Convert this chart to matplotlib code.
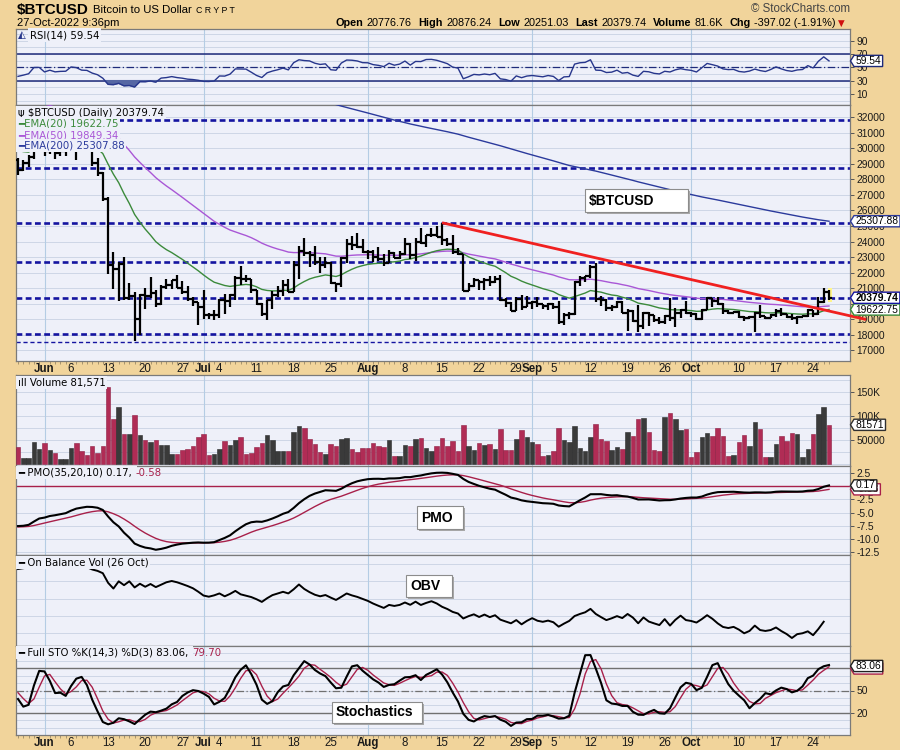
import numpy as np
import pandas as pd
import matplotlib
matplotlib.use("Agg")
import matplotlib.pyplot as plt
from matplotlib.patches import Polygon, Rectangle

plt.rcParams['font.family'] = ['Liberation Sans', 'DejaVu Sans']

# ---------------- data (daily bars 27-May-2022 .. 27-Oct-2022) ----------------
start_date = "2022-05-27"

close = [
    28630, 29030, 29470, 31730, 31790,
    29800, 30450, 29700, 29860, 29910, 31370, 31130, 30210, 30110, 29080,
    28400, 26760, 22490, 22210, 22580, 20380, 20470, 19020, 20550, 20520,
    20710, 19990, 21090, 21230, 21500, 21030, 20740, 20280, 20100, 19780,
    19270, 19240, 19300, 20230, 20190, 20550, 21640, 21610, 21590, 20860,
    19970, 19320, 20210, 20570, 20840, 21190, 20780, 22490, 23390, 23230,
    23160, 22710, 22470, 22610, 21360, 21240, 22930, 23840, 23800, 23660, 23340,
    23310, 22980, 22850, 22630, 23290, 22960, 23180, 23810, 23150, 23950,
    23930, 24400, 24440, 24310, 24090, 23850, 23340, 23190, 20830, 21140,
    21520, 21400, 21530, 21370, 21560, 20240, 20040, 19550, 20290, 19810, 20050,
    20130, 19970, 19830, 19990, 19810, 18840, 19290, 19330, 21380, 21680,
    21770, 22370, 20300, 20240, 19700, 19770, 20130, 19420, 19540, 18890,
    18550, 19410, 19300, 18940, 18800, 19220, 19080, 19410, 19590, 19420,
    19310, 19040, 19620, 20340, 20160, 19960, 19530, 19420, 19450, 19140,
    19050, 19160, 19380, 19190, 19070, 19270, 19550, 19330, 19140, 19050,
    19170, 19210, 19570, 19350, 20100, 20776.76, 20379.74,
]
high = [
    29370, 29250, 29560, 31900, 32240,
    31960, 30600, 30650, 29900, 30090, 31700, 31520, 31290, 30600, 30300,
    29380, 28500, 26880, 23300, 22680, 22980, 21330, 20740, 20610, 21000,
    21700, 20850, 21200, 21560, 21520, 21820, 21480, 21150, 20400, 20130,
    20860, 19420, 19620, 20330, 20590, 20630, 21800, 22400, 21860, 21600,
    20860, 20040, 20240, 20830, 21130, 21530, 21600, 22720, 23700, 24200,
    23400, 23730, 22990, 22990, 22660, 21360, 23030, 24170, 24380, 24550, 24160,
    23450, 23440, 23630, 23200, 23440, 23300, 23370, 24200, 23900, 24210,
    24870, 24430, 24860, 25000, 25210, 24250, 24440, 23560, 23200, 21360,
    21680, 21530, 21650, 21800, 21800, 21860, 20340, 20130, 20400, 20570, 20470,
    20190, 20400, 20000, 20040, 20030, 20160, 19430, 19440, 21470, 21780,
    21800, 22470, 22620, 20500, 20330, 19890, 20180, 20140, 19640, 19600,
    19920, 19460, 19480, 19300, 19160, 19290, 20340, 19700, 19640, 20150,
    19470, 19390, 19650, 20400, 20340, 20440, 20040, 19600, 19510, 19520,
    19200, 19200, 19490, 19900, 19210, 19350, 19640, 19690, 19350, 19330,
    19230, 19250, 19680, 19590, 20400, 20980, 20876.24,
]
low = [
    28280, 28530, 28800, 29330, 31270,
    29500, 29650, 29340, 29530, 29500, 29900, 29270, 29900, 29990, 28870,
    28200, 26600, 21930, 20950, 20180, 20230, 20250, 17600, 17960, 19680,
    20350, 19800, 19920, 20920, 20960, 20980, 20650, 20200, 19860, 18630,
    19000, 19000, 18980, 19080, 19320, 19800, 20240, 21230, 21410, 20680,
    19910, 19230, 18960, 19650, 20400, 20520, 20770, 20770, 21600, 23060,
    22370, 22480, 21990, 22290, 21290, 20720, 21070, 22590, 23480, 23600, 23240,
    22880, 22690, 22720, 22450, 22590, 22930, 22890, 23150, 22900, 22760,
    23850, 23630, 24290, 24300, 23780, 23710, 23210, 23150, 20800, 20800,
    21070, 20890, 20900, 21150, 21310, 20140, 19800, 19530, 19530, 19560, 19800,
    19650, 19790, 19670, 19620, 19640, 18700, 18600, 19030, 19300, 21140,
    21380, 21630, 20080, 19850, 19510, 19520, 19700, 19370, 18270, 18800,
    18150, 18380, 18580, 18850, 18660, 18660, 18870, 18500, 19090, 19320,
    19160, 18950, 18960, 19600, 19810, 19920, 19340, 19320, 19390, 19100,
    18900, 19010, 18150, 19100, 18990, 19060, 19160, 19190, 19100, 18940,
    18710, 19130, 19160, 19150, 19250, 20060, 20251.03,
]
volume_k = [
    36, 13, 13, 46, 31.6,
    44, 30, 23, 11, 11, 34, 44, 28, 20, 38.5,
    23, 38.5, 159, 94, 119, 63.5, 63.5, 101, 61, 49.6,
    45, 51, 40, 40, 21, 21, 30, 32, 37, 56.6,
    63.5, 19, 22, 31.6, 47.5, 40, 49.6, 56.6, 22, 23,
    36, 44, 60.8, 51, 28, 26.7, 26.7, 67.7, 80, 74,
    52.4, 42.7, 26, 21, 42.7, 38.5, 52.4, 54.6, 32, 24.6, 33,
    33, 44, 37, 35, 49.6, 17, 17, 40, 38.5, 52,
    54.6, 34, 28, 37, 54.6, 37, 47.5, 26.7, 82, 38.5,
    30, 44, 40, 42.7, 31.6, 73, 30, 30, 53, 70, 57,
    45, 42.7, 17.7, 19.8, 26.7, 74, 51, 45, 80, 34,
    28, 56.6, 84, 52.5, 49, 30, 35.8, 32.3, 67.7, 59.4,
    94, 96, 67.7, 30, 28, 98, 106.6, 94, 70, 73,
    15, 26, 56.6, 65, 59.4, 75.4, 59.4, 17.7, 19, 45,
    60.8, 38.5, 88, 73, 15, 15, 42.7, 59.4, 49, 65.6,
    63.5, 15, 31.6, 63.5, 103, 119, 81.571,
]
prev_close = 29270.0  # 26-May close (open of first bar)
# 9-May .. 26-May bars (only feed the stochastic look-back window)
pre_high = [34240, 32600, 32140, 30000, 30960, 30300, 31410, 31290, 30760,
            30630, 30500, 30690, 29590, 30410, 30620, 29790, 30170, 29850]
pre_low = [30030, 29800, 28150, 26700, 28800, 28730, 29500, 29200, 29480,
           28700, 28700, 28740, 28950, 29240, 28900, 28680, 29340, 28020]
pre_close = [30300, 31020, 28940, 29050, 29280, 30100, 31300, 29860, 30420,
             28720, 30310, 29200, 29430, 30320, 29100, 29650, 29560, 29270]

support_levels = [31830, 28720, 25180, 22690, 20370, 18050]
minor_support = 17515
trend_dates = ["2022-08-15", "2022-11-03"]
trend_values = [25210, 18980]

month_starts = ["2022-06-01", "2022-07-01", "2022-08-01", "2022-09-01", "2022-10-01"]
date_ticks = ["2022-06-01", "2022-06-06", "2022-06-13", "2022-06-20", "2022-06-27",
              "2022-07-01", "2022-07-04", "2022-07-11", "2022-07-18", "2022-07-25",
              "2022-08-01", "2022-08-08", "2022-08-15", "2022-08-22", "2022-08-29",
              "2022-09-01", "2022-09-05", "2022-09-12", "2022-09-19", "2022-09-26",
              "2022-10-01", "2022-10-10", "2022-10-17", "2022-10-24"]
date_labels = ["Jun", "6", "13", "20", "27", "Jul", "4", "11", "18", "25",
               "Aug", "8", "15", "22", "29", "Sep", "5", "12", "19", "26",
               "Oct", "10", "17", "24"]

# values printed in the chart legends
last_rsi = 59.54
last_ema20, last_ema50, last_ema200 = 19622.75, 19849.34, 25307.88
last_pmo, last_pmo_sig = 0.17, -0.58
last_k, last_d = 83.06, 79.70
last_close = 20379.74
last_volume = 81571

# indicator seeds (state on 26-May)
ema20_seed, ema50_seed = 30000.0, 33600.0
rsi_seed_gain, rsi_seed_loss = 400.0, 650.0
pmo_seed_roc, pmo_seed, pmo_sig_seed = -0.75, -7.5, -7.8

# ---------------- indicators ----------------
def di(s):
    return (pd.Timestamp(s) - pd.Timestamp(start_date)).days

c = np.array(close, float)
hi = np.array(high, float)
lo = np.array(low, float)
vol = np.array(volume_k, float) * 1000
n = len(c)
x = np.arange(n)
cprev = np.r_[prev_close, c[:-1]]
op = cprev.copy()
up = c >= cprev

def ema(vals, period, seed):
    a = 2.0 / (period + 1)
    out, e = [], seed
    for v in vals:
        e += a * (v - e)
        out.append(e)
    return np.array(out)

ema20 = ema(c, 20, ema20_seed)
ema50 = ema(c, 50, ema50_seed)
k200 = (1 - 2.0 / 201) ** n
ema200_seed = (last_ema200 - ema(c, 200, 0.0)[-1]) / k200
ema200 = ema(c, 200, ema200_seed)

chg = c - cprev
ag, al = rsi_seed_gain, rsi_seed_loss
rsi = []
for d in chg:
    ag = (ag * 13 + max(d, 0)) / 14
    al = (al * 13 + max(-d, 0)) / 14
    rsi.append(100 - 100 / (1 + ag / al))
rsi = np.array(rsi)

roc = c / cprev * 100 - 100
s1, p = pmo_seed_roc, pmo_seed
pmo = []
for rr in roc:
    s1 += (rr - s1) * 2 / 35
    p += (10 * s1 - p) * 2 / 20
    pmo.append(p)
pmo = np.array(pmo)
pmo_sig = ema(pmo, 10, pmo_sig_seed)

fh = np.r_[pre_high, hi]
fl = np.r_[pre_low, lo]
fc = np.r_[pre_close, c]
raw = np.full(len(fc), np.nan)
for i in range(13, len(fc)):
    hh, ll = fh[i - 13:i + 1].max(), fl[i - 13:i + 1].min()
    raw[i] = (fc[i] - ll) / (hh - ll) * 100
kk = pd.Series(raw).rolling(3).mean()
dd = kk.rolling(3).mean()
npre = len(pre_close)
sto_k = kk.values[npre:]
sto_d = dd.values[npre:]

obv = np.cumsum(np.sign(chg) * vol)
obv_plot = obv[:-1]          # "On Balance Vol (26 Oct)"

# ---------------- figure ----------------
W, H = 900, 750
BG = '#F1D49B'
PANEL_BG = '#EEF0F9'
GRID = '#CDD6E6'
VGRID = '#B4CCE4'
SPINE = '#7A7A7A'
UPV = '#3A3A3A'
DNV = '#B02C55'
CRIM = '#A8204A'
TICKSZ = 7.4

fig = plt.figure(figsize=(9, 7.5), dpi=100)
fig.patch.set_facecolor(BG)
XL = (-0.377, 156.96)

def ftext(xp, yp, s, **kw):
    return fig.text(xp / W, 1 - yp / H, s, **kw)

def panel(top, bottom):
    ax = fig.add_axes([16 / W, 1 - bottom / H, 834 / W, (bottom - top) / H])
    ax.set_facecolor(PANEL_BG)
    ax.set_xlim(*XL)
    for s in ax.spines.values():
        s.set_color(SPINE)
        s.set_linewidth(0.9)
    ax.yaxis.tick_right()
    ax.tick_params(axis='y', length=3, width=0.7, color='#555555', pad=1.5,
                   labelsize=TICKSZ, labelcolor='#1a1a1a')
    ax.tick_params(axis='x', which='both', bottom=False, top=False, labelbottom=False)
    for m in month_starts:
        ax.axvline(di(m), color=VGRID, lw=0.8, zorder=0.5)
    return ax

def hgrid(ax, levels):
    for lv in levels:
        ax.axhline(lv, color=GRID, lw=0.7, zorder=0.4)

def date_axis(ax):
    ax.set_xticks([di(d) for d in date_ticks])
    ax.set_xticklabels(date_labels)
    ax.set_xticks(x, minor=True)
    ax.tick_params(axis='x', which='major', bottom=True, length=0, labelbottom=True,
                   labelsize=8.3, pad=1.5, labelcolor='#1a1a1a')
    ax.tick_params(axis='x', which='minor', bottom=True, length=2, width=0.5, color='#8a7a5a')
    for t, lab in zip(ax.get_xticklabels(), date_labels):
        if lab.isalpha():
            t.set_fontweight('bold')

# --- RSI panel
ax_rsi = panel(29, 105)
ax_rsi.set_ylim(-6.5, 107.4)
hgrid(ax_rsi, range(0, 101, 10))
for lv in (70, 30):
    ax_rsi.axhline(lv, color='#1E2A7A', lw=1.1, zorder=1)
ax_rsi.axhline(50, color='#1E2A7A', lw=0.9, ls=(0, (6, 2, 1, 2)), zorder=1)
ax_rsi.fill_between(x, rsi, 30, where=rsi < 30, interpolate=True, color='#5566A3', zorder=2)
ax_rsi.plot(x, rsi, color='#27368C', lw=1.0, zorder=3)
ax_rsi.set_yticks([10, 30, 50, 70, 90])

# --- price panel
ax_p = panel(105, 361)
ax_p.set_ylim(16308, 32792)
hgrid(ax_p, range(17000, 33000, 1000))
for lv in support_levels:
    ax_p.axhline(lv, color='#1414A0', lw=1.9, ls=(0, (2.2, 1.3)), zorder=2)
ax_p.axhline(minor_support, color='#1414A0', lw=1.0, ls=(0, (3, 2)), zorder=2)
ax_p.add_patch(Rectangle((152.75, lo[-1] - 120), 0.9, hi[-1] - lo[-1] + 240,
                         facecolor='#FFF58A', edgecolor='none', zorder=2.5))
ax_p.plot(x, ema200, color='#2B3A9C', lw=1.0, zorder=3)
ax_p.plot(x, ema50, color='#A957D6', lw=1.0, zorder=3)
ax_p.plot(x, ema20, color='#3B8A3B', lw=1.0, zorder=3)
ax_p.vlines(x, lo, hi, color='black', lw=1.6, zorder=4)
ax_p.hlines(op, x - 0.5, x, color='black', lw=1.6, zorder=4)
ax_p.hlines(c, x, x + 0.5, color='black', lw=1.6, zorder=4)
ax_p.plot([di(d) for d in trend_dates], trend_values, color='#F02020', lw=2.0,
          zorder=5, clip_on=False, solid_capstyle='butt')
ax_p.set_yticks(range(17000, 33000, 1000))
ax_p.set_yticklabels([str(t) for t in range(17000, 33000, 1000)])
date_axis(ax_p)

# --- volume panel
ax_v = panel(375, 466)
ax_v.set_ylim(-3700, 184700)
hgrid(ax_v, range(0, 175001, 25000))
ax_v.bar(x, vol, width=0.86, color=np.where(up, UPV, DNV),
         edgecolor=np.where(up, '#2a2a2a', '#8E1E42'), linewidth=0.4, zorder=3)
ax_v.set_yticks([50000, 100000, 150000])
ax_v.set_yticklabels(['50000', '100K', '150K'])

# --- PMO panel
ax_m = panel(466, 555)
ax_m.set_ylim(-13.1, 3.87)
hgrid(ax_m, np.arange(-12.5, 3.0, 2.5))
ax_m.axhline(0, color=CRIM, lw=1.0, zorder=1)
ax_m.plot(x, pmo_sig, color=CRIM, lw=1.0, zorder=3)
ax_m.plot(x, pmo, color='black', lw=1.5, zorder=4)
pmo_ticks = [2.5, 0, -2.5, -5, -7.5, -10, -12.5]
ax_m.set_yticks(pmo_ticks)
ax_m.set_yticklabels(['2.5', '0.0', '-2.5', '-5.0', '-7.5', '-10.0', '-12.5'])

# --- OBV panel
ax_o = panel(555, 646)
p_top, p_bot = 555.0, 646.0
y0_px, ymin_px = 569.0, 638.0
v0, vmin = obv_plot[0], obv_plot.min()
slope = (ymin_px - y0_px) / (vmin - v0)
def obv_val(ypx):
    return v0 + (ypx - y0_px) / slope
ax_o.set_ylim(obv_val(p_bot), obv_val(p_top))
hgrid(ax_o, [obv_val(yy) for yy in (564, 581, 598.5, 616, 633)])
ax_o.plot(x[:-1], obv_plot, color='black', lw=1.4, zorder=3)
ax_o.set_yticks([])

# --- Stochastics panel
ax_s = panel(646, 735)
ax_s.set_ylim(-10, 110)
hgrid(ax_s, range(0, 101, 10))
for lv in (80, 20):
    ax_s.axhline(lv, color='#707070', lw=1.0, zorder=1)
ax_s.axhline(50, color='#707070', lw=0.9, ls=(0, (6, 2, 1, 2)), zorder=1)
ax_s.plot(x, sto_d, color=CRIM, lw=1.0, zorder=3)
ax_s.plot(x, sto_k, color='black', lw=1.5, zorder=4)
ax_s.set_yticks([20, 50, 80])
date_axis(ax_s)

# ---------------- legends inside panels ----------------
LEG = dict(family='DejaVu Sans', size=7.3, va='center', ha='left', zorder=6)
BOXBG = dict(facecolor=PANEL_BG, edgecolor='none', pad=1.2)
ftext(18, 35, "\u25ED", color='#27368C', **LEG)
ftext(30, 35, f"RSI(14) {last_rsi:.2f}", color='black', bbox=BOXBG, **LEG)
ftext(18, 112.7, "\u03C8 $BTCUSD (Daily) %.2f" % last_close, color='black', bbox=BOXBG, **LEG)
ftext(18, 124, "\u2501EMA(20) %.2f" % last_ema20, color='#3B8A3B', bbox=BOXBG, **LEG)
ftext(18, 135, "\u2501EMA(50) %.2f" % last_ema50, color='#A957D6', bbox=BOXBG, **LEG)
ftext(18, 145.7, "\u2501EMA(200) %.2f" % last_ema200, color='#2B3A9C', bbox=BOXBG, **LEG)
ftext(18, 382.7, "\u0131ll Volume {:,}".format(last_volume), color='black', bbox=BOXBG, **LEG)
t1 = ftext(18, 472.7, "\u2501 PMO(35,20,10) %.2f, " % last_pmo, color='black', bbox=BOXBG, **LEG)
ftext(18, 562.7, "\u2501 On Balance Vol (26 Oct)", color='black', bbox=BOXBG, **LEG)
t2 = ftext(18, 652.7, "\u2501 Full STO %%K(14,3) %%D(3) %.2f, " % last_k, color='black', bbox=BOXBG, **LEG)

r = fig.canvas.get_renderer()
def right_px(t):
    return t.get_window_extent(renderer=r).x1
ftext(right_px(t1) + 1, 472.7, "%.2f" % last_pmo_sig, color=CRIM, **LEG)
ftext(right_px(t2) + 1, 652.7, "%.2f" % last_d, color=CRIM, **LEG)

# ---------------- value tags on the right axis ----------------
zc = [10]
def tag(ax, val, s, ec, tc='black', bold=False):
    yd = ax.transData.transform((0, val))[1]
    z = zc[0]
    zc[0] += 2
    t = fig.text(855.5 / W, yd / H, s, size=7.4, color=tc, va='center', ha='left',
                 fontweight='bold' if bold else 'normal', zorder=z + 1)
    w = t.get_window_extent(renderer=r).width
    hh = 5.6
    xe = 855.5 + w + 1.5
    pts = [(850.5, yd), (854, yd + hh), (xe, yd + hh), (xe, yd - hh), (854, yd - hh)]
    fig.add_artist(Polygon([(a / W, b / H) for a, b in pts], closed=True,
                           transform=fig.transFigure, facecolor='white',
                           edgecolor=ec, lw=1.0, zorder=z))

tag(ax_rsi, last_rsi, "%.2f" % last_rsi, '#1E2A7A')
tag(ax_p, last_ema200, "%.2f" % last_ema200, '#2B3A9C')
tag(ax_p, last_ema20, "%.2f" % last_ema20, '#3B8A3B')
tag(ax_p, last_close, "%.2f" % last_close, '#1414A0', bold=True)
tag(ax_v, last_volume, str(last_volume), '#303030')
tag(ax_m, last_pmo_sig, "%.2f" % last_pmo_sig, CRIM, tc=CRIM)
tag(ax_m, last_pmo, "%.2f" % last_pmo, '#202020')
tag(ax_s, last_d, "%.2f" % last_d, CRIM, tc=CRIM)
tag(ax_s, last_k, "%.2f" % last_k, '#202020')

# ---------------- annotation boxes ----------------
def note(x0, y0, x1, y1, s):
    fig.add_artist(Rectangle(((x0 + 2) / W, 1 - (y1 + 2) / H), (x1 - x0) / W, (y1 - y0) / H,
                             transform=fig.transFigure, facecolor='#A8A8A8',
                             edgecolor='none', zorder=7))
    fig.add_artist(Rectangle((x0 / W, 1 - y1 / H), (x1 - x0) / W, (y1 - y0) / H,
                             transform=fig.transFigure, facecolor='white',
                             edgecolor='#8C8C8C', lw=0.8, zorder=8))
    ftext(x0 + 4, (y0 + y1) / 2, s, size=10, fontweight='bold', va='center',
          ha='left', color='black', zorder=9)

note(585, 189, 688, 212, "$BTCUSD")
note(417, 506, 463, 529, "PMO")
note(406, 575, 452, 597, "OBV")
note(332, 702, 422, 723, "Stochastics")

# ---------------- header ----------------
tt = ftext(17, 10, "$BTCUSD", size=11, fontweight='bold', va='center', ha='left',
           family=['Liberation Sans Narrow', 'DejaVu Sans Condensed', 'Liberation Sans'],
           color='black')
xt = right_px(tt) + 4
t3 = ftext(xt, 10, "Bitcoin to US Dollar", size=8.2, va='center', ha='left', color='black')
ftext(right_px(t3) + 4, 10.5, "C R Y P T", size=6.3, va='center', ha='left', color='black')
ftext(17, 23, "27-Oct-2022 9:36pm", size=8.0, va='center', ha='left', color='black')
ftext(850, 9, "\u00A9 StockCharts.com", size=8.3, va='center', ha='right', color='#444444')

pieces = [("Open", True), ("20776.76", False), ("High", True), ("20876.24", False),
          ("Low", True), ("20251.03", False), ("Last", True), ("20379.74", False),
          ("Volume", True), ("81.6K", False), ("Chg", True), ("-397.02 (-1.91%)", False)]
objs = []
for s, b in pieces:
    t = ftext(0, 23, s, size=7.8, fontweight='bold' if b else 'normal', va='center',
              ha='left', color='black')
    objs.append((t, t.get_window_extent(renderer=r).width, b))
tri = ftext(0, 23, "\u25BC", size=6.2, va='center', ha='left', color='#D01010',
            family=['DejaVu Sans'])
tw = tri.get_window_extent(renderer=r).width
total = sum(w for _, w, _ in objs) + 6 * 3.5 + 6 * 6.5 + tw
xcur = 849 - total
for i, (t, w, b) in enumerate(objs):
    t.set_x(xcur / W)
    xcur += w + (3.5 if b else 6.5)
tri.set_x((xcur - 4) / W)

fig.savefig("out.png", dpi=100, facecolor=BG)
